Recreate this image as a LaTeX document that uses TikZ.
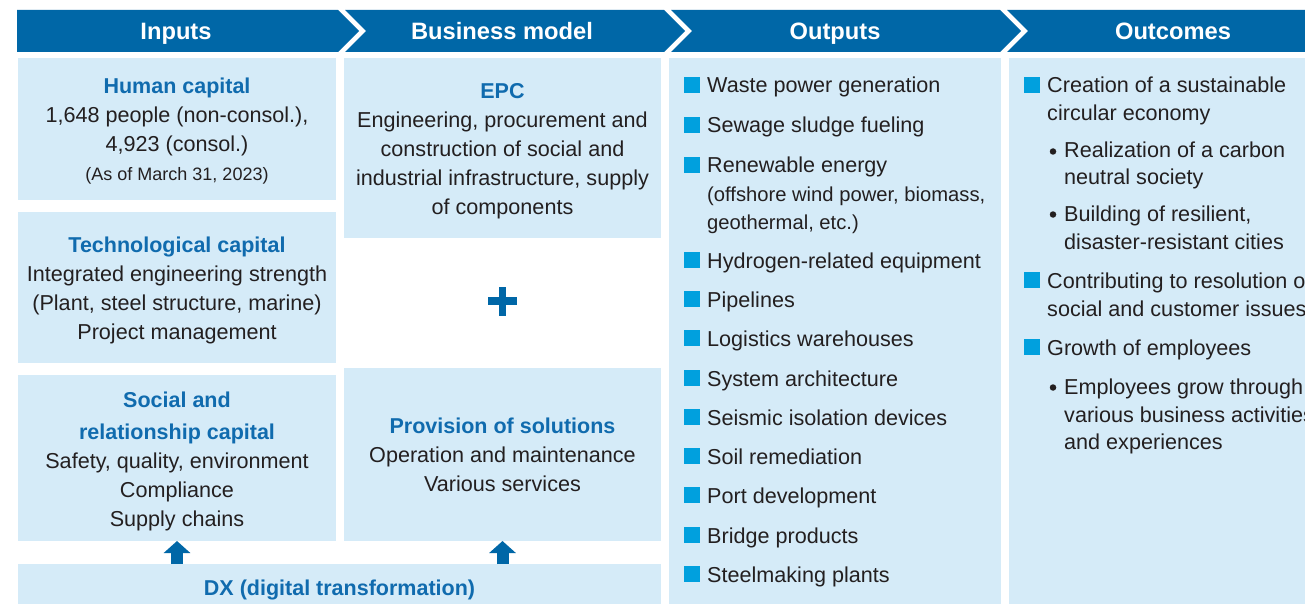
\documentclass[tikz,border=0pt]{standalone}
\usepackage{fontspec}
\setmainfont{Liberation Sans}
\usetikzlibrary{arrows.meta}
\definecolor{headblue}{RGB}{0,103,167}
\definecolor{lightbox}{RGB}{213,235,248}
\definecolor{titleblue}{RGB}{16,107,174}
\definecolor{sqblue}{RGB}{0,160,222}
\definecolor{txt}{RGB}{35,31,32}
\newcommand\captitle[1]{{\color{titleblue}\bfseries\fontsize{21.5}{29}\selectfont #1}}
\begin{document}
\begin{tikzpicture}[x=1pt,y=-1pt,
 panel/.style={fill=lightbox, inner sep=0pt, outer sep=0pt, anchor=north west},
 ptext/.style={inner sep=0pt, align=center, text=txt, font=\fontsize{21.6}{29}\selectfont},
 headtxt/.style={text=white, font=\bfseries\fontsize{23.7}{28}\selectfont, inner sep=0pt, anchor=base},
 item/.style={anchor=base west, inner sep=0pt, text=txt, font=\fontsize{21.6}{29}\selectfont},
 subitem/.style={item, font=\fontsize{20.2}{28}\selectfont},
 sq/.style={fill=sqblue, inner sep=0pt, minimum size=15.5pt, anchor=south west},
 bdot/.style={circle, fill=txt, inner sep=0pt, minimum size=6.5pt},
 blockarrow/.style={draw=headblue, line width=12pt, -{Triangle[width=26pt,length=12pt]}},
 plusbar/.style={draw=headblue, line width=7.5pt},
]
\useasboundingbox (0,0) rectangle (1305,604);
\clip (0,0) rectangle (1305,604);
\fill[white] (0,0) rectangle (1305,604);

% header band
\fill[headblue] (17,10) -- (338,10) -- (359,31) -- (338,52) -- (17,52) -- cycle;
\fill[headblue] (345,10) -- (664,10) -- (685,31) -- (664,52) -- (345,52) -- (366,31) -- cycle;
\fill[headblue] (671,10) -- (1000,10) -- (1021,31) -- (1000,52) -- (671,52) -- (692,31) -- cycle;
\fill[headblue] (1007,10) -- (1310,10) -- (1310,52) -- (1007,52) -- (1028,31) -- cycle;
\node[headtxt] (h1) at (176,39.5) {Inputs};
\node[headtxt] (h2) at (502,39.5) {Business model};
\node[headtxt] (h3) at (835,39.5) {Outputs};
\node[headtxt] (h4) at (1173,39.5) {Outcomes};

% inputs
\node[panel, minimum width=318pt, minimum height=142pt] (hum) at (18,58) {};
\node[ptext, yshift=-2.5pt] (humt) at (hum.center)
 {\captitle{Human capital}\\ 1,648 people (non-consol.),\\ 4,923 (consol.)\\ {\fontsize{18}{29}\selectfont (As of March 31, 2023)}};
\node[panel, minimum width=318pt, minimum height=151pt] (tech) at (18,212) {};
\node[ptext, yshift=-3pt] (techt) at (tech.center)
 {\captitle{Technological capital}\\ Integrated engineering strength\\ (Plant, steel structure, marine)\\ Project management};
\node[panel, minimum width=318pt, minimum height=166pt] (soc) at (18,375) {};
\node[ptext, yshift=-3pt] (soct) at (soc.center)
 {\captitle{Social and}\\[3pt] \captitle{relationship capital}\\ Safety, quality, environment\\ Compliance\\ Supply chains};

% business model
\node[panel, minimum width=317pt, minimum height=180pt] (epc) at (344,58) {};
\node[ptext, yshift=-3.5pt] (epct) at (epc.center)
 {\captitle{EPC}\\ Engineering, procurement and\\ construction of social and\\ industrial infrastructure, supply\\ of components};
\coordinate (plus) at (502.5,301);
\draw[plusbar] ([xshift=-14.5pt]plus) -- ([xshift=14.5pt]plus);
\draw[plusbar] ([yshift=-14.5pt]plus) -- ([yshift=14.5pt]plus);
\node[panel, minimum width=317pt, minimum height=173pt] (prov) at (344,368) {};
\node[ptext, yshift=-0.5pt] (provt) at (prov.center)
 {\captitle{Provision of solutions}\\ Operation and maintenance\\ Various services};

% DX
\node[panel, minimum width=643pt, minimum height=48pt] (dx) at (18,564) {};
\node[ptext, yshift=-1.5pt] (dxt) at (dx.center) {\captitle{DX (digital transformation)}};
\draw[blockarrow] (dx.north -| soc.south) -- (soc.south);
\draw[blockarrow] (dx.north -| prov.south) -- (prov.south);

% outputs
\node[panel, minimum width=332pt, minimum height=554pt] (outp) at (669,58) {};
\node[sq] (s1) at (684,93) {};   \node[item] (o1) at (707,93) {Waste power generation};
\node[sq] (s2) at (684,133) {};  \node[item] (o2) at (707,133) {Sewage sludge fueling};
\node[sq] (s3) at (684,173) {};  \node[item] (o3) at (707,173) {Renewable energy};
\node[subitem] (o3a) at (707,201) {(offshore wind power, biomass,};
\node[subitem] (o3b) at (707,229) {geothermal, etc.)};
\node[sq] (s4) at (684,268) {};  \node[item] (o4) at (707,268) {Hydrogen-related equipment};
\node[sq] (s5) at (684,307) {};  \node[item] (o5) at (707,307) {Pipelines};
\node[sq] (s6) at (684,346) {};  \node[item] (o6) at (707,346) {Logistics warehouses};
\node[sq] (s7) at (684,386) {};  \node[item] (o7) at (707,386) {System architecture};
\node[sq] (s8) at (684,425) {};  \node[item] (o8) at (707,425) {Seismic isolation devices};
\node[sq] (s9) at (684,464) {};  \node[item] (o9) at (707,464) {Soil remediation};
\node[sq] (s10) at (684,503) {}; \node[item] (o10) at (707,503) {Port development};
\node[sq] (s11) at (684,543) {}; \node[item] (o11) at (707,543) {Bridge products};
\node[sq] (s12) at (684,582) {}; \node[item] (o12) at (707,582) {Steelmaking plants};

% outcomes
\node[panel, minimum width=310pt, minimum height=554pt] (outc) at (1009,58) {};
\node[sq] (t1) at (1024,93) {};  \node[item] (c1) at (1047,93) {Creation of a sustainable};
\node[item] (c1b) at (1047,121) {circular economy};
\node[bdot] (d1) at (1053,151.5) {}; \node[item] (c2) at (1064,158) {Realization of a carbon};
\node[item] (c2b) at (1064,185) {neutral society};
\node[bdot] (d2) at (1053,214.5) {}; \node[item] (c3) at (1064,221) {Building of resilient,};
\node[item] (c3b) at (1064,249) {disaster-resistant cities};
\node[sq] (t2) at (1024,288) {}; \node[item] (c4) at (1047,288) {Contributing to resolution of};
\node[item] (c4b) at (1047,316) {social and customer issues};
\node[sq] (t3) at (1024,355) {}; \node[item] (c5) at (1047,355) {Growth of employees};
\node[bdot] (d3) at (1053,387.5) {}; \node[item] (c6) at (1064,394) {Employees grow through};
\node[item] (c6b) at (1064,422) {various business activities};
\node[item] (c6c) at (1064,449) {and experiences};
\end{tikzpicture}
\end{document}
